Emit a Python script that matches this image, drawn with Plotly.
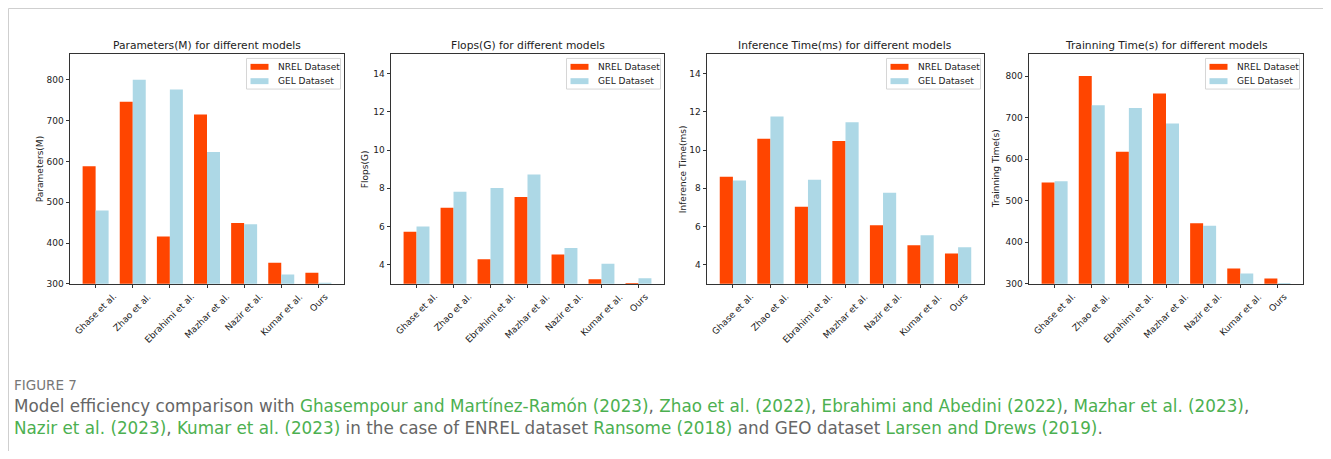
import plotly.graph_objects as go

models = ["Ghase et al.", "Zhao et al.", "Ebrahimi et al.", "Mazhar et al.", "Nazir et al.", "Kumar et al.", "Ours"]

params_nrel = [588, 746, 416, 715, 449, 352, 327]
params_gel = [480, 800, 776, 623, 446, 323, 303]
flops_nrel = [5.73, 6.98, 4.29, 7.55, 4.54, 3.24, 3.05]
flops_gel = [6.0, 7.82, 8.01, 8.72, 4.87, 4.05, 3.29]
infer_nrel = [8.60, 10.59, 7.03, 10.47, 6.06, 5.02, 4.59]
infer_gel = [8.41, 11.75, 8.45, 11.46, 7.77, 5.54, 4.92]
train_nrel = [544, 800, 618, 758, 446, 337, 313]
train_gel = [547, 730, 723, 686, 440, 325, 302]

titles = ["Parameters(M) for different models", "Flops(G) for different models",
          "Inference Time(ms) for different models", "Trainning Time(s) for different models"]
ylabels = ["Parameters(M)", "Flops(G)", "Inference Time(ms)", "Trainning Time(s)"]
legend_names = ["NREL Dataset", "GEL Dataset"]
yranges = [[300, 862], [3, 15], [3, 15], [300, 852]]
ytickvals = [[300, 400, 500, 600, 700, 800], [4, 6, 8, 10, 12, 14], [4, 6, 8, 10, 12, 14],
             [300, 400, 500, 600, 700, 800]]
series = [(params_nrel, params_gel), (flops_nrel, flops_gel), (infer_nrel, infer_gel), (train_nrel, train_gel)]

# The page body has an 8px margin; the figure is sized so it fits the 1331x459 window.
OFF = 8
W, H = 1331 - 2 * OFF, 459 - 2 * OFF
NREL_COLOR = "#FF4500"
GEL_COLOR = "#ADD8E6"
colors = [NREL_COLOR, GEL_COLOR]

# page-pixel layout of the four panels
xpix = [(70, 344), (391, 664), (707, 984), (1029, 1303)]
ylab_x = [40, 365, 683, 996]
top_px, bot_px = 55, 287


def fx(px):
    return (px - OFF) / W


def fy(py):
    return 1 - (py - OFF) / H


fig = go.Figure()
FONT = "DejaVu Sans"
annotations = []
shapes = []
for i in range(4):
    xa = "x" if i == 0 else f"x{i+1}"
    ya = "y" if i == 0 else f"y{i+1}"
    nrel, gel = series[i]
    for vals, name, col in zip((nrel, gel), legend_names, colors):
        fig.add_trace(go.Bar(x=models, y=vals, name=name, marker_color=col,
                             marker_line_width=0, xaxis=xa, yaxis=ya, showlegend=False))
    xkey = "xaxis" if i == 0 else f"xaxis{i+1}"
    ykey = "yaxis" if i == 0 else f"yaxis{i+1}"
    x0, x1 = xpix[i]
    fig.update_layout(**{
        xkey: dict(domain=[fx(x0), fx(x1)], anchor=ya, type="category", range=[-0.69, 6.69],
                   showline=True, mirror=True, linecolor="#333", linewidth=1,
                   ticks="outside", ticklen=3.5, tickcolor="#333", showticklabels=False,
                   showgrid=False, zeroline=False),
        ykey: dict(domain=[fy(bot_px), fy(top_px)], anchor=xa, range=yranges[i],
                   tickvals=ytickvals[i], showline=True, mirror=True, linecolor="#333", linewidth=1,
                   ticks="outside", ticklen=3.5, tickcolor="#333",
                   tickfont=dict(family=FONT, size=9, color="#222"), showgrid=False, zeroline=False),
    })
    # matplotlib-style rotated tick labels, centred on each tick
    for m in models:
        annotations.append(dict(text=m, x=m, xref=xa, y=fy(bot_px + 5), yref="paper",
                                xanchor="center", yanchor="top", textangle=-45, showarrow=False,
                                font=dict(family=FONT, size=9, color="#222")))
    annotations.append(dict(text=titles[i], x=fx((x0 + x1) / 2), y=fy(46), xref="paper", yref="paper",
                            xanchor="center", yanchor="middle", showarrow=False,
                            font=dict(family=FONT, size=10.7, color="#222")))
    annotations.append(dict(text=ylabels[i], x=fx(ylab_x[i]), y=fy((top_px + bot_px) / 2),
                            xref="paper", yref="paper", xanchor="center", yanchor="middle",
                            textangle=-90, showarrow=False,
                            font=dict(family=FONT, size=9, color="#222")))
    # legend box (matplotlib style) drawn in the upper right corner of each panel
    bx1 = x1 - 3.5
    bx0 = bx1 - 94
    by0 = top_px + 4
    by1 = by0 + 31
    shapes.append(dict(type="rect", xref="paper", yref="paper", x0=fx(bx0), x1=fx(bx1),
                       y0=fy(by1), y1=fy(by0), line=dict(color="#d6d6d6", width=1),
                       fillcolor="rgba(255,255,255,0.85)", layer="above"))
    for k, (name, col) in enumerate(zip(legend_names, colors)):
        cy = by0 + 8.5 + k * 14.5
        shapes.append(dict(type="rect", xref="paper", yref="paper", x0=fx(bx0 + 4), x1=fx(bx0 + 22),
                           y0=fy(cy + 3), y1=fy(cy - 3), line=dict(width=0), fillcolor=col, layer="above"))
        annotations.append(dict(text=name, x=fx(bx0 + 29), y=fy(cy), xref="paper", yref="paper",
                                xanchor="left", yanchor="middle", showarrow=False,
                                font=dict(family=FONT, size=9, color="#222")))

GREEN = "#4CB050"
GRAY = "#666666"


def g(t):
    return f'<span style="color:{GREEN}">{t}</span>'


fig_label = '<span style="font-size:13.5px;color:#777777">FIGURE 7</span>'
line1 = ("Model efficiency comparison with " + g("Ghasempour and Martínez-Ramón (2023)") + ", "
         + g("Zhao et al. (2022)") + ", " + g("Ebrahimi and Abedini (2022)") + ", "
         + g("Mazhar et al. (2023)") + ",")
line2 = (g("Nazir et al. (2023)") + ", " + g("Kumar et al. (2023)")
         + " in the case of ENREL dataset " + g("Ransome (2018)") + " and GEO dataset "
         + g("Larsen and Drews (2019)") + ".")
annotations.append(dict(text=fig_label + "<br>" + line1 + "<br>" + line2, x=fx(12), y=fy(412),
                        xref="paper", yref="paper", xanchor="left", yanchor="middle", align="left",
                        showarrow=False, font=dict(family="DejaVu Sans", size=16.8, color=GRAY)))

shapes.insert(0, dict(type="rect", xref="paper", yref="paper", x0=fx(8.5), x1=fx(1325.5),
                      y0=-0.1, y1=fy(8.5), line=dict(color="#cfcfcf", width=1),
                      fillcolor="rgba(0,0,0,0)", layer="below"))

fig.update_layout(
    width=W, height=H, margin=dict(l=0, r=0, t=0, b=0),
    paper_bgcolor="white", plot_bgcolor="white",
    barmode="group", bargap=0.3, bargroupgap=0,
    annotations=annotations, shapes=shapes, showlegend=False,
)

fig.write_html("out.html")
